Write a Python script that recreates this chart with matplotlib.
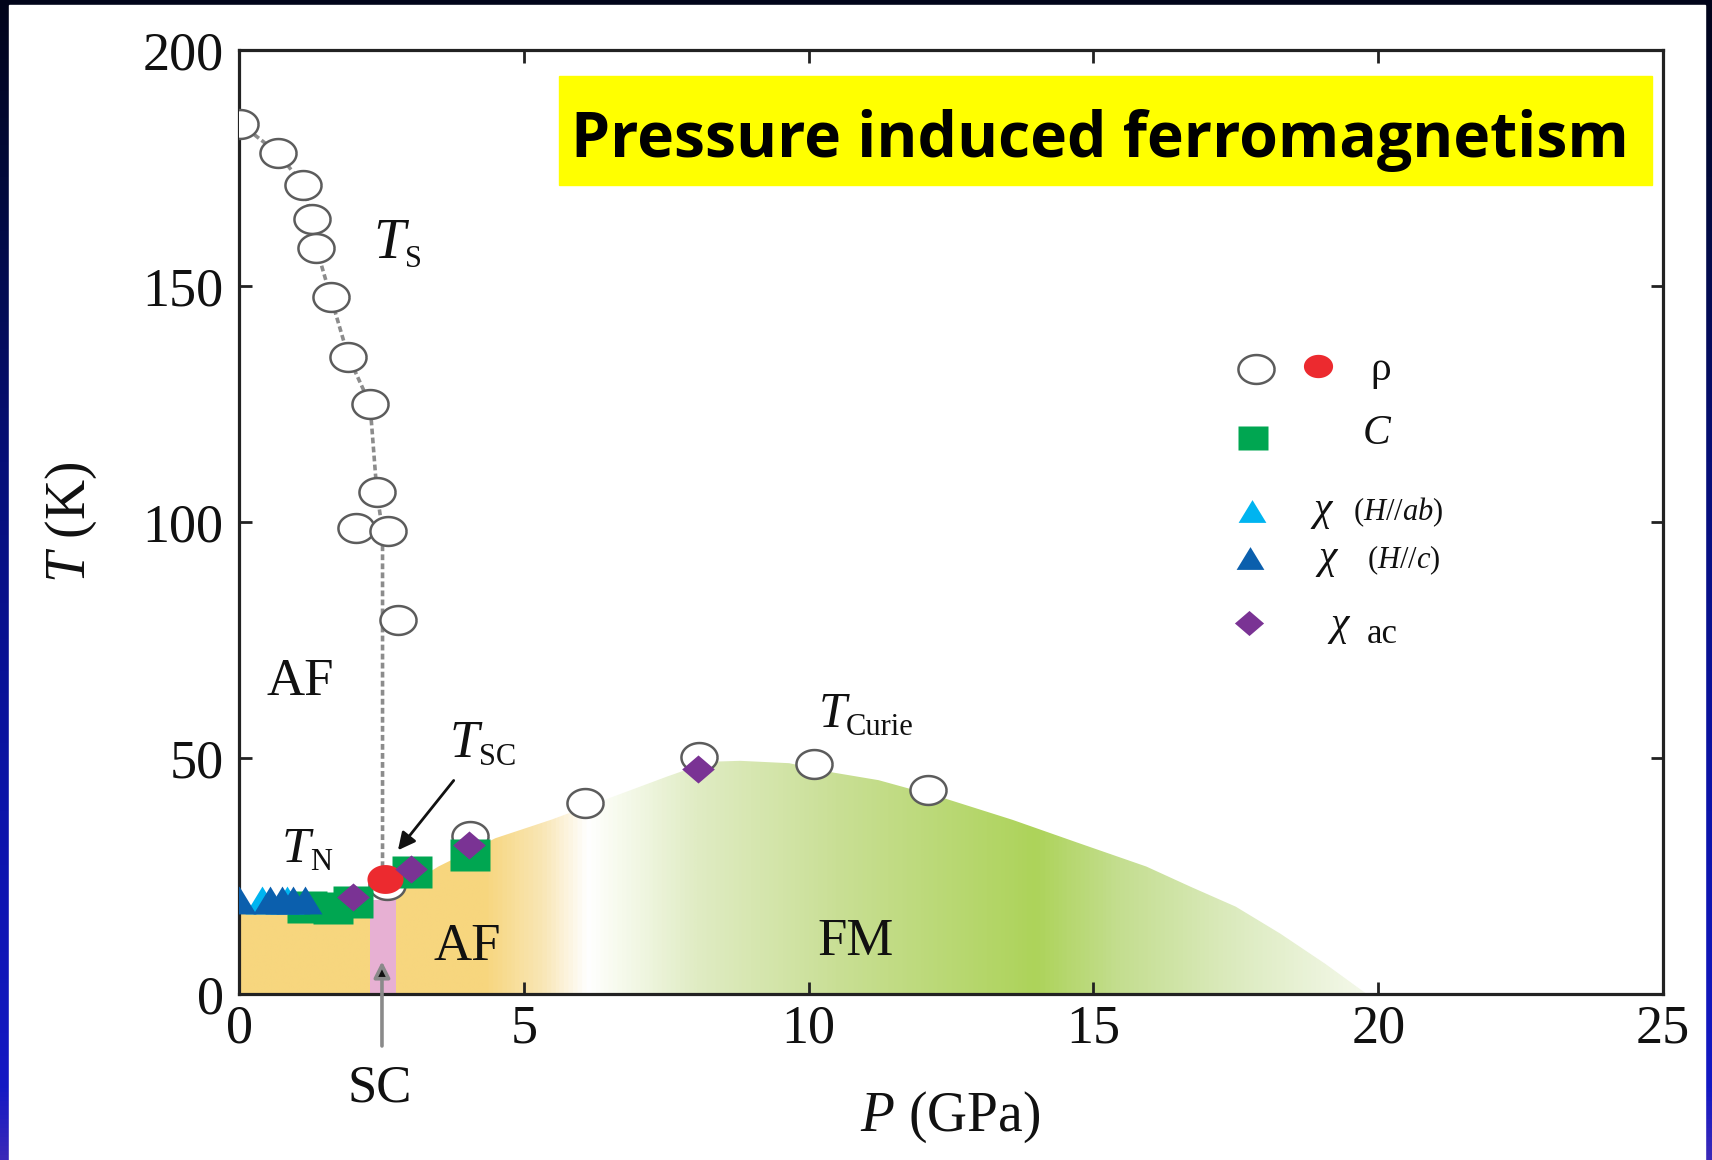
import numpy as np
import matplotlib
matplotlib.use("Agg")
import matplotlib.pyplot as plt
from matplotlib.patches import Rectangle, Polygon
from matplotlib.path import Path
from matplotlib.colors import LinearSegmentedColormap

plt.rcParams["font.family"] = ["Liberation Serif", "DejaVu Serif"]
plt.rcParams["mathtext.fontset"] = "custom"
plt.rcParams["mathtext.rm"] = "Liberation Serif"
plt.rcParams["mathtext.it"] = "Liberation Serif:italic"
plt.rcParams["mathtext.bf"] = "Liberation Serif:bold"

# ── data: P in GPa, T in K ──
# structural transition T_s (open circles) and the dotted guide through them
ts_p = [0.02, 0.69, 1.13, 1.28, 1.36, 1.61, 1.92, 2.30, 2.42, 2.05, 2.61, 2.79]
ts_t = [184.4, 178.1, 171.3, 164.3, 158.0, 147.7, 135.0, 125.0, 106.4, 98.8, 98.1, 79.2]
guide_p = [0.02, 0.69, 1.13, 1.28, 1.36, 1.61, 1.92, 2.30, 2.42, 2.52, 2.52]
guide_t = [184.4, 178.1, 171.3, 164.3, 158.0, 147.7, 135.0, 125.0, 106.4, 98.0, 25.0]
# resistivity: magnetic transition (open) and superconducting onset (filled)
rho_p = [2.60, 4.05, 6.07, 8.08, 10.10, 12.10]
rho_t = [23.0, 33.5, 40.4, 50.3, 48.8, 43.2]
rho_sc_p = [2.57]
rho_sc_t = [24.4]
# specific heat
c_p = [1.20, 1.65, 2.00, 3.03, 4.05]
c_t = [18.5, 18.3, 19.5, 25.8, 29.5]
# dc susceptibility, H//ab and H//c
chi_ab_p = [0.40, 0.85]
chi_ab_t = [20.0, 20.0]
chi_c_p = [0.00, 0.55, 0.75, 0.95, 1.15]
chi_c_t = [20.0, 20.0, 20.0, 20.0, 20.0]
# ac susceptibility
chi_ac_p = [2.00, 3.02, 4.03, 8.06]
chi_ac_t = [20.6, 26.5, 31.5, 47.6]
# upper edge of the ordered (AF -> FM) region
dome_p = [0, 2.3, 2.76, 3.5, 4.5, 5.5, 6.5, 7.5, 8.25, 8.8, 9.66, 10.44,
          11.23, 12.4, 13.58, 14.76, 15.93, 16.71, 17.5, 18.28, 19.07, 19.8]
dome_t = [17, 17, 21.5, 27, 33, 37, 41.5, 46.0, 49.2, 49.4, 48.9, 46.9,
          45.3, 41.4, 36.9, 31.9, 27.0, 22.7, 18.5, 12.8, 6.4, 0]
# superconducting sliver
sc_p = [2.30, 2.76]
sc_t = 20.0

# colours
GREEN = "#00a651"
NAVY_TRI = "#0b5fad"
CYAN_TRI = "#00b4f0"
PURPLE = "#7a3394"
RED = "#ec2a2f"
RING = "#5c5c5c"
INK = "#111111"

# shape of the (slightly flattened) markers
_th = np.linspace(0, 2 * np.pi, 65)
ELLIPSE = Path(np.column_stack([np.cos(_th), 0.8 * np.sin(_th)]))
TRI = [(-1, -0.82), (1, -0.82), (0, 0.82)]
SQR = [(-1, -0.8), (1, -0.8), (1, 0.8), (-1, 0.8)]
DIA = [(-1, 0), (0, 0.86), (1, 0), (0, -0.86)]

W, H = 1712, 1160
fig = plt.figure(figsize=(W / 100, H / 100), dpi=100)

# slide backdrop: blue gradient frame round a white panel
bg = fig.add_axes([0, 0, 1, 1], zorder=-5)
bg.set_axis_off()
frame = LinearSegmentedColormap.from_list(
    "frame", [(0, "#3a28b8"), (0.06, "#1419c4"), (0.3, "#0c14aa"),
              (0.6, "#060f78"), (0.85, "#020a3a"), (1, "#01041a")])
bg.imshow(np.linspace(0, 1, 256)[:, None], cmap=frame, aspect="auto",
          extent=[0, 1, 0, 1], origin="lower")
bg.add_patch(Rectangle((9 / W, 0), (1705 - 9) / W, 1 - 5 / H, color="white"))
bg.set_xlim(0, 1)
bg.set_ylim(0, 1)

ax = fig.add_axes([239 / W, 1 - 994 / H, (1663 - 239) / W, (994 - 50) / H])

# phase regions: orange AF fading through white into green FM
stops = [(0, "#f7d67e"), (4.3, "#f7d67e"), (5.3, "#f9e6b5"), (6.1, "#ffffff"),
         (6.4, "#fbfdf5"), (8.0, "#e0ecc4"), (10.5, "#c9df95"), (14.0, "#add35a"),
         (15.5, "#c4de90"), (17.5, "#dcebbf"), (19.8, "#f4f8ea"), (20, "#ffffff")]
phase = LinearSegmentedColormap.from_list("phase", [(p / 20, c) for p, c in stops])
im = ax.imshow(np.linspace(0, 1, 1000)[None, :], cmap=phase, aspect="auto",
               extent=[0, 20, 0, 50], origin="lower", interpolation="bilinear", zorder=1)
edge = Polygon(np.column_stack([[0] + dome_p, [0] + dome_t]), closed=True,
               transform=ax.transData, facecolor="none", edgecolor="none")
ax.add_patch(edge)
im.set_clip_path(edge)
ax.fill_between(sc_p, 0, sc_t, color="#e7b0d3", lw=0, zorder=2)

# data
ax.plot(guide_p, guide_t, ls=(0, (1.6, 0.9)), color="#8c8c8c", lw=2.6, zorder=2)
ax.plot(ts_p, ts_t, ls="none", marker=ELLIPSE, ms=26, mfc="white", mec=RING, mew=1.8, zorder=3)
ax.plot(rho_p, rho_t, ls="none", marker=ELLIPSE, ms=26, mfc="white", mec=RING, mew=1.8, zorder=3)
ax.plot(c_p, c_t, ls="none", marker=SQR, ms=29, mfc=GREEN, mec="none", zorder=4)
ax.plot(chi_ab_p, chi_ab_t, ls="none", marker=TRI, ms=24.5, mfc=CYAN_TRI, mec="none", zorder=5)
ax.plot(chi_c_p, chi_c_t, ls="none", marker=TRI, ms=24.5, mfc=NAVY_TRI, mec="none", zorder=5)
ax.plot(rho_sc_p, rho_sc_t, ls="none", marker=ELLIPSE, ms=26, mfc=RED, mec="none", zorder=6)
ax.plot(chi_ac_p, chi_ac_t, ls="none", marker=DIA, ms=23.5, mfc=PURPLE, mec="none", zorder=7)


def t_label(p, t, sub, size=38, sub_size=22):
    main = ax.text(p, t, "T", style="italic", fontsize=size, color=INK,
                   ha="left", va="baseline", zorder=8)
    ax.annotate(sub, xy=(1, 0), xycoords=main, xytext=(0, 2),
                textcoords="offset points", fontsize=sub_size, color=INK,
                ha="left", va="baseline", zorder=8)


t_label(2.35, 156.0, "S", size=41)
t_label(3.70, 50.3, "SC")
t_label(0.75, 28.0, "N", size=37)
t_label(10.17, 56.6, "Curie", size=36)

ax.text(1.07, 63.3, "AF", fontsize=38, color=INK, ha="center", va="baseline", zorder=8)
ax.text(4.01, 7.2, "AF", fontsize=38, color=INK, ha="center", va="baseline", zorder=8)
ax.text(10.82, 8.3, "FM", fontsize=38, color=INK, ha="center", va="baseline", zorder=8)
ax.text(2.47, -22.8, "SC", fontsize=38, color=INK, ha="center", va="baseline",
        zorder=8, clip_on=False)

ax.annotate("", xy=(2.76, 30.0), xytext=(3.80, 45.7), zorder=8,
            arrowprops=dict(arrowstyle="-|>", color=INK, lw=2.0, mutation_scale=26))
ax.annotate("", xy=(2.51, 7.5), xytext=(2.51, -11.6), annotation_clip=False, zorder=8,
            arrowprops=dict(arrowstyle="-|>", fc=INK, ec="#8a8a8a", lw=2.6,
                            mutation_scale=24))

# key, drawn in axes fraction
key = dict(ls="none", transform=ax.transAxes, clip_on=False, zorder=9)
ax.plot([0.7142], [0.6624], marker=ELLIPSE, ms=26, mfc="white", mec=RING, mew=1.8, **key)
ax.plot([0.7576], [0.6650], marker=ELLIPSE, ms=21, mfc=RED, mec="none", **key)
ax.plot([0.7124], [0.5890], marker=SQR, ms=21, mfc=GREEN, mec="none", **key)
ax.plot([0.7112], [0.5119], marker=TRI, ms=20, mfc=CYAN_TRI, mec="none", **key)
ax.plot([0.7103], [0.4619], marker=TRI, ms=20, mfc=NAVY_TRI, mec="none", **key)
ax.plot([0.7093], [0.3935], marker=DIA, ms=21, mfc=PURPLE, mec="none", **key)
kt = dict(transform=ax.transAxes, color=INK, va="center", ha="left", zorder=9)
ax.text(0.7942, 0.661, "ρ", fontsize=30, **kt)
ax.text(0.7893, 0.5938, "C", style="italic", fontsize=30, **kt)
ax.text(0.7521, 0.5106, r"$\chi$", fontsize=30, **kt)
ax.text(0.7823, 0.5106, r"$(H//ab)$", fontsize=22, **kt)
ax.text(0.7556, 0.4597, r"$\chi$", fontsize=30, **kt)
ax.text(0.7919, 0.4597, r"$(H//c)$", fontsize=22, **kt)
ax.text(0.7640, 0.3893, r"$\chi$", fontsize=30, **kt)
ax.text(0.7919, 0.3803, "ac", fontsize=25, **kt)

# axes
ax.set_xlim(0, 25)
ax.set_ylim(0, 200)
ax.set_xticks([0, 5, 10, 15, 20, 25])
ax.set_yticks([0, 50, 100, 150, 200])
ax.tick_params(direction="in", length=9, width=2, top=True, right=True,
               labelsize=39, colors="#222222", labelcolor=INK)
ax.tick_params(axis="x", pad=7)
ax.tick_params(axis="y", pad=11)
for s in ax.spines.values():
    s.set_linewidth(2.3)
    s.set_color("#222222")

fig.text(71 / W, 1 - 522 / H, r"$T$ (K)", rotation=90, fontsize=40, color=INK,
         ha="center", va="center")
fig.text(950 / W, 1 - 1117 / H, r"$P$ (GPa)", fontsize=40, color=INK,
         ha="center", va="center")

# banner
ax.add_patch(Rectangle((559 / W, 1 - 185 / H), (1652 - 559) / W, (185 - 76) / H,
                       transform=fig.transFigure, color="#ffff00", zorder=10, clip_on=False))
ax.text(1100 / W, 1 - 157 / H, "Pressure induced ferromagnetism",
        transform=fig.transFigure, family=["Open Sans", "DejaVu Sans"], weight="bold",
        fontsize=45, color="black", ha="center", va="baseline", zorder=11)

fig.savefig("out.png", dpi=100)
